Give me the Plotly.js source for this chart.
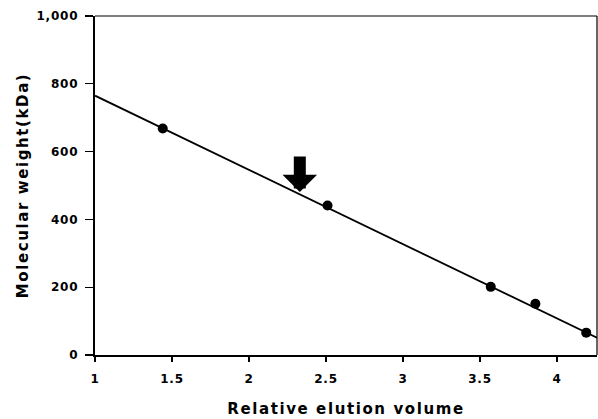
<!DOCTYPE html>
<html><head><meta charset="utf-8">
<script src="https://cdn.plot.ly/plotly-3.0.1.min.js"></script>
<style>body{margin:0;background:#fff}#c{width:598px;height:419px}
#c .xtitle, #c .ytitle{letter-spacing:1.6px}
#c .xtick text, #c .ytick text{letter-spacing:0.8px}
</style>
</head><body><div id="c"></div>
<script>
const elutionVolume = [1.44, 2.51, 3.57, 3.86, 4.19];
const molecularWeight = [668, 441, 201, 151, 66];
const fitX = [1, 4.26];
const fitY = [765, 51];
const arrowX = 2.33;
const arrowY = 481;
const xTicks = [1, 1.5, 2, 2.5, 3, 3.5, 4];
const yTicks = [0, 200, 400, 600, 800, 1000];

const fam = 'DejaVu Sans, Liberation Sans, Arial, sans-serif';
const data = [
  {x: fitX, y: fitY, mode: 'lines', line: {color: '#000', width: 1.8}, showlegend: false, hoverinfo: 'skip'},
  {x: elutionVolume, y: molecularWeight, mode: 'markers', marker: {color: '#000', size: 10}, showlegend: false}
];
const layout = {
  width: 598, height: 419,
  margin: {l: 95, r: 1, t: 16, b: 64},
  paper_bgcolor: '#fff', plot_bgcolor: '#fff',
  font: {family: fam, color: '#000'},
  xaxis: {
    range: [1, 4.26], tickvals: xTicks, ticktext: xTicks.map(String),
    ticks: 'outside', ticklen: 5, tickwidth: 1.2, tickcolor: '#000',
    ticklabelstandoff: 6,
    showline: true, linecolor: '#000', linewidth: 2.2, mirror: false,
    showgrid: false, zeroline: false,
    tickfont: {family: fam, size: 12, color: '#000', weight: 'bold'},
    title: {text: 'Relative elution volume', font: {family: fam, size: 15, color: '#000', weight: 'bold'}, standoff: 19}
  },
  yaxis: {
    range: [0, 1000], tickvals: yTicks, ticktext: yTicks.map(v => v.toLocaleString('en-US')),
    ticks: 'outside', ticklen: 8, tickwidth: 1.2, tickcolor: '#000',
    ticklabelstandoff: 4,
    showline: true, linecolor: '#000', linewidth: 2.2, mirror: false,
    showgrid: false, zeroline: false,
    tickfont: {family: fam, size: 12, color: '#000', weight: 'bold'},
    title: {text: 'Molecular weight(kDa)', font: {family: fam, size: 15, color: '#000', weight: 'bold'}, standoff: 8}
  },
  shapes: [
    {type: 'line', xref: 'paper', yref: 'paper', x0: 0, x1: 1, y0: 1, y1: 1, line: {color: '#000', width: 1.2}},
    {type: 'line', xref: 'paper', yref: 'paper', x0: 1, x1: 1, y0: 0, y1: 1, line: {color: '#000', width: 1.2}}
  ],
  annotations: [{
    x: arrowX, y: arrowY, xref: 'x', yref: 'y', text: '',
    showarrow: true, ax: 0, ay: -37, arrowcolor: '#000',
    arrowwidth: 12, arrowhead: 1, arrowsize: 0.48
  }]
};
Plotly.newPlot('c', data, layout, {displayModeBar: false, staticPlot: true});
</script></body></html>
